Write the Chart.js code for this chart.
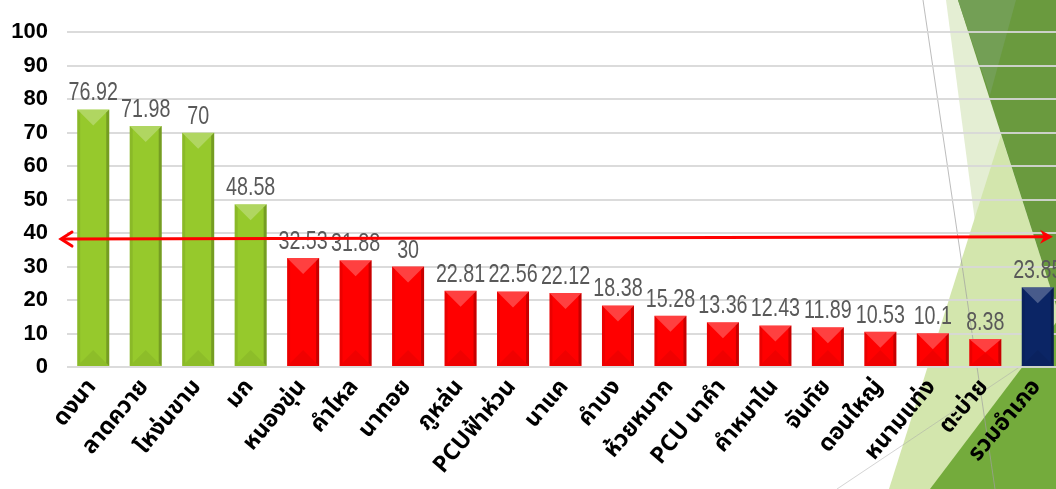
<!DOCTYPE html>
<html>
<head>
<meta charset="utf-8">
<script src="https://cdn.jsdelivr.net/npm/chart.js@4/dist/chart.umd.min.js"></script>
<style>
  html, body { margin: 0; padding: 0; background: #fff; overflow: hidden; width: 1056px; height: 489px; }
  #wrap { position: absolute; left: 0; top: 0; width: 1064px; height: 489px; }
</style>
</head>
<body>
<div id="wrap"><canvas id="c" width="1064" height="489"></canvas></div>
<script>
// ---- data ----
const categories = ["ดงนา","ลาดควาย","โหง่นขาม","มก","หนองขุ่น","คำไหล","นาทอย","ภูหล่น","PCUฟ้าห่วน","นาแค","คำบง","ห้วยหมาก","PCU นาคำ","คำหมาไน","จันทัย","ดอนใหญ่","หนามแท่ง","ตะบ่าย","รวมอำเภอ"];
const values = [76.92,71.98,70,48.58,32.53,31.88,30,22.81,22.56,22.12,18.38,15.28,13.36,12.43,11.89,10.53,10.1,8.38,23.85];
const yTicks = [0,10,20,30,40,50,60,70,80,90,100];
const targetLine = [38.2, 38.9]; // red arrow level (left end, right end)

// ---- styles ----
const GREEN = '#96c92c', RED = '#ff0000', NAVY = '#0b2565';
const barColors = values.map((v, i) => i === values.length - 1 ? NAVY : (v > targetLine[0] ? GREEN : RED));

const bgPlugin = {
  id: 'bg',
  beforeDraw(chart) {
    const ctx = chart.ctx;
    ctx.save();
    ctx.fillStyle = '#ffffff';
    ctx.fillRect(0, 0, chart.width, chart.height);
    const poly = (pts, color) => {
      ctx.beginPath();
      ctx.moveTo(pts[0][0], pts[0][1]);
      for (let i = 1; i < pts.length; i++) ctx.lineTo(pts[i][0], pts[i][1]);
      ctx.closePath();
      ctx.fillStyle = color;
      ctx.fill();
    };
    poly([[946,0],[1064,0],[1064,489],[1010,489]], '#e4eed3');
    poly([[1001,135],[1064,330],[1064,489],[889,489]], '#d3e6ad');
    poly([[958,0],[1064,0],[1064,330]], '#6a9a3e');
    poly([[958,0],[1016,0],[990,95]], '#739f55');
    poly([[1064,312],[1064,489],[930,489]], '#74ab3c');
    ctx.strokeStyle = 'rgba(160,160,160,0.7)';
    ctx.lineWidth = 1;
    ctx.beginPath(); ctx.moveTo(923,0); ctx.lineTo(995,489); ctx.stroke();
    ctx.strokeStyle = 'rgba(170,170,170,0.5)';
    ctx.beginPath(); ctx.moveTo(837,489); ctx.lineTo(1030,360); ctx.stroke();
    ctx.restore();
  }
};

const bevelPlugin = {
  id: 'bevel',
  afterDatasetsDraw(chart) {
    const ctx = chart.ctx;
    const meta = chart.getDatasetMeta(0);
    ctx.save();
    meta.data.forEach((bar) => {
      const p = bar.getProps(['x','y','base','width'], true);
      const l = p.x - p.width / 2, r = p.x + p.width / 2, t = p.y, b = p.base;
      const h = b - t;
      const d = Math.min(p.width / 2, h / 2);
      const s = 3;
      ctx.beginPath(); ctx.moveTo(l, t); ctx.lineTo(r, t); ctx.lineTo(p.x, t + d); ctx.closePath();
      ctx.fillStyle = 'rgba(255,255,255,0.25)'; ctx.fill();
      ctx.beginPath(); ctx.moveTo(l, b); ctx.lineTo(r, b); ctx.lineTo(p.x, b - d); ctx.closePath();
      ctx.fillStyle = 'rgba(0,0,0,0.06)'; ctx.fill();
      ctx.beginPath(); ctx.moveTo(r, t); ctx.lineTo(r, b); ctx.lineTo(r - s, b - s); ctx.lineTo(r - s, t + s); ctx.closePath();
      ctx.fillStyle = 'rgba(0,0,0,0.22)'; ctx.fill();
      ctx.beginPath(); ctx.moveTo(l, t); ctx.lineTo(l, b); ctx.lineTo(l + s, b - s); ctx.lineTo(l + s, t + s); ctx.closePath();
      ctx.fillStyle = 'rgba(0,0,0,0.08)'; ctx.fill();
    });
    ctx.restore();
  }
};

const labelPlugin = {
  id: 'vals',
  afterDatasetsDraw(chart) {
    const ctx = chart.ctx;
    const meta = chart.getDatasetMeta(0);
    ctx.save();
    ctx.font = "24px 'Liberation Sans', 'DejaVu Sans', sans-serif";
    ctx.fillStyle = '#595959';
    ctx.textAlign = 'center';
    ctx.textBaseline = 'alphabetic';
    meta.data.forEach((bar, i) => {
      ctx.save();
      ctx.translate(bar.x, bar.y - 9);
      ctx.scale(0.82, 1.05);
      ctx.fillText(String(values[i]), 0, 0);
      ctx.restore();
    });
    ctx.restore();
  }
};

const arrowPlugin = {
  id: 'arrow',
  afterDatasetsDraw(chart) {
    const ctx = chart.ctx;
    const ys = chart.scales.y;
    const x0 = chart.chartArea.left - 6, x1 = 1053;
    const y0 = ys.getPixelForValue(targetLine[0]);
    const y1 = ys.getPixelForValue(targetLine[1]);
    ctx.save();
    ctx.strokeStyle = '#ff0000';
    ctx.fillStyle = '#ff0000';
    ctx.lineWidth = 3;
    ctx.lineCap = 'round';
    ctx.beginPath(); ctx.moveTo(x0 + 2, y0); ctx.lineTo(x1 - 4, y1); ctx.stroke();
    ctx.beginPath(); ctx.moveTo(x0 + 11, y0 - 7); ctx.lineTo(x0, y0); ctx.lineTo(x0 + 11, y0 + 7); ctx.stroke();
    ctx.beginPath(); ctx.moveTo(x1, y1); ctx.lineTo(x1 - 13, y1 - 7); ctx.lineTo(x1 - 9, y1); ctx.lineTo(x1 - 13, y1 + 7); ctx.closePath(); ctx.fill();
    ctx.restore();
  }
};

new Chart(document.getElementById('c'), {
  type: 'bar',
  data: {
    labels: categories,
    datasets: [{
      data: values,
      backgroundColor: barColors,
      borderWidth: 0,
      barPercentage: 0.61,
      categoryPercentage: 1.0
    }]
  },
  options: {
    responsive: false,
    animation: false,
    devicePixelRatio: 1,
    layout: { padding: { top: 29, right: 0, bottom: 0, left: 0 } },
    plugins: { legend: { display: false }, tooltip: { enabled: false } },
    scales: {
      y: {
        min: 0, max: 100,
        afterBuildTicks: (s) => { s.ticks = yTicks.map(v => ({ value: v })); },
        afterFit: (s) => { s.width = 67; },
        border: { display: false },
        grid: { color: 'rgba(215,215,215,0.9)', lineWidth: 2, drawTicks: false },
        ticks: {
          color: '#000',
          padding: 19,
          font: { family: "'Liberation Sans', Arial, sans-serif", size: 22, weight: 'bold' }
        }
      },
      x: {
        afterFit: (s) => { s.height = 122; s.paddingLeft = 0; s.paddingRight = 0; },
        border: { display: false },
        grid: { display: false, drawTicks: false },
        ticks: {
          color: '#000',
          minRotation: 50, maxRotation: 50,
          autoSkip: false,
          padding: 8,
          font: { family: "'Noto Sans Thai', 'Noto Sans', 'DejaVu Sans', sans-serif", size: 23, weight: 'bold' }
        }
      }
    }
  },
  plugins: [bgPlugin, bevelPlugin, labelPlugin, arrowPlugin]
});
</script>
</body>
</html>
